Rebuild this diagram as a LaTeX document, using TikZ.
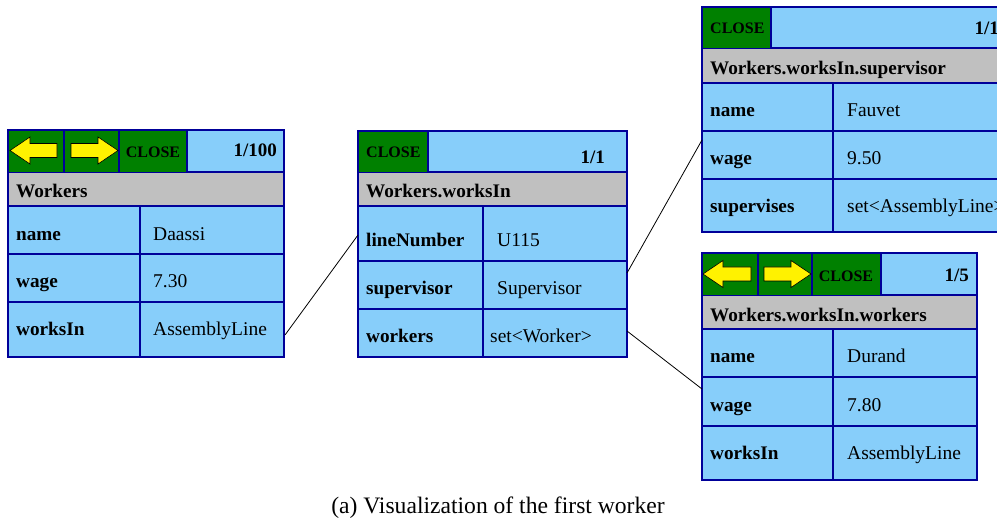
\documentclass[tikz,border=0pt]{standalone}
\usepackage{fontspec}
\setmainfont{Liberation Serif}
\definecolor{cellblue}{HTML}{87CEFA}
\definecolor{btngreen}{HTML}{008000}
\definecolor{titlegray}{HTML}{C0C0C0}
\definecolor{edgeblue}{HTML}{000099}

\tikzset{
  gridline/.style={draw=edgeblue,line width=1.4pt},
  frame/.style={draw=edgeblue,line width=2.2pt},
  lbl/.style={anchor=base west,inner sep=0pt,font=\fontsize{19.2}{22}\selectfont\bfseries},
  val/.style={anchor=base west,inner sep=0pt,font=\fontsize{19.5}{23}\selectfont},
  closelbl/.style={anchor=base,inner sep=0pt,font=\fontsize{16}{19}\selectfont\bfseries},
  closeleft/.style={anchor=base west,inner sep=0pt,font=\fontsize{16}{19}\selectfont\bfseries},
  counter/.style={anchor=base east,inner sep=0pt,font=\fontsize{19}{22}\selectfont\bfseries},
  link/.style={draw=black,line width=0.8pt},
  navarrow/.style={fill=yellow,draw=black,line width=0.6pt,line join=miter},
}

% yellow navigation arrows: tip x, tail x, middle y
\newcommand\navleft[3]{%
  \path[navarrow] (#1,#3) -- (#1+20,#3-13.5) -- (#1+20,#3-7) -- (#2,#3-7)
    -- (#2,#3+7) -- (#1+20,#3+7) -- (#1+20,#3+13.5) -- cycle;}
\newcommand\navright[3]{%
  \path[navarrow] (#1,#3) -- (#1-20,#3-13.5) -- (#1-20,#3-7) -- (#2,#3-7)
    -- (#2,#3+7) -- (#1-20,#3+7) -- (#1-20,#3+13.5) -- cycle;}

% table body: left, top, right, toolbar bottom, title bottom, row1, row2, bottom, column
\newcommand\tablebody[9]{%
  \fill[cellblue] (#1,#2) rectangle (#3,#8);
  \fill[titlegray] (#1,#4) rectangle (#3,#5);
  \draw[gridline] (#1,#4) -- (#3,#4);
  \draw[gridline] (#1,#5) -- (#3,#5);
  \draw[gridline] (#1,#6) -- (#3,#6);
  \draw[gridline] (#1,#7) -- (#3,#7);
  \draw[gridline] (#9,#5) -- (#9,#8);}

\begin{document}
\begin{tikzpicture}[x=1pt,y=-1pt]
\useasboundingbox (0,0) rectangle (997,521);
\clip (0,0) rectangle (997,521);

% ---------- Workers ----------
\tablebody{8}{130}{284}{172}{206}{254}{302}{357}{140}
\fill[btngreen] (8,130) rectangle (187,172);
\draw[gridline] (64,130) -- (64,172);
\draw[gridline] (119,130) -- (119,172);
\draw[gridline] (187,130) -- (187,172);
\navleft{10}{57}{150.5}
\navright{118}{71}{150.5}
\draw[frame] (8,130) rectangle (284,357);
\node[closelbl] (w-close) at (153,158) {CLOSE};
\node[counter] (w-count) at (277,157) {1/100};
\node[lbl] (w-title) at (16,198) {Workers};
\node[lbl] (w-k1) at (16,241) {name};
\node[val] (w-v1) at (153,241) {Daassi};
\node[lbl] (w-k2) at (16,288) {wage};
\node[val] (w-v2) at (153,288) {7.30};
\node[lbl] (w-k3) at (16,336) {worksIn};
\node[val] (w-v3) at (153,336) {AssemblyLine};

% ---------- Workers.worksIn ----------
\tablebody{358}{131}{627}{172}{206}{261}{309}{357}{483}
\fill[btngreen] (358,131) rectangle (428,172);
\draw[gridline] (428,131) -- (428,172);
\draw[frame] (358,131) rectangle (627,357);
\node[closeleft] (l-close) at (366,158) {CLOSE};
\node[counter] (l-count) at (605,164) {1/1};
\node[lbl] (l-title) at (366,198) {Workers.worksIn};
\node[lbl] (l-k1) at (366,247) {lineNumber};
\node[val] (l-v1) at (497,247) {U115};
\node[lbl] (l-k2) at (366,295) {supervisor};
\node[val] (l-v2) at (497,295) {Supervisor};
\node[lbl] (l-k3) at (366,343) {workers};
\node[val] (l-v3) at (490,343) {set<Worker>};

% ---------- Workers.worksIn.supervisor ----------
\tablebody{702}{7}{1019}{48}{83}{131}{179}{232}{833}
\fill[btngreen] (702,7) rectangle (771,48);
\draw[gridline] (771,7) -- (771,48);
\draw[frame] (702,7) rectangle (1019,232);
\node[closeleft] (s-close) at (710,34) {CLOSE};
\node[counter] (s-count) at (999,35) {1/1};
\node[lbl] (s-title) at (710,75) {Workers.worksIn.supervisor};
\node[lbl] (s-k1) at (710,117) {name};
\node[val] (s-v1) at (847,117) {Fauvet};
\node[lbl] (s-k2) at (710,165) {wage};
\node[val] (s-v2) at (847,165) {9.50};
\node[lbl] (s-k3) at (710,213) {supervises};
\node[val] (s-v3) at (847,213) {set<AssemblyLine>};

% ---------- Workers.worksIn.workers ----------
\tablebody{702}{253}{977}{295}{329}{377}{426}{480}{833}
\fill[btngreen] (702,253) rectangle (881,295);
\draw[gridline] (758,253) -- (758,295);
\draw[gridline] (812,253) -- (812,295);
\draw[gridline] (881,253) -- (881,295);
\navleft{703}{751}{274}
\navright{811}{764}{274}
\draw[frame] (702,253) rectangle (977,480);
\node[closelbl] (k-close) at (846,282) {CLOSE};
\node[counter] (k-count) at (969,282) {1/5};
\node[lbl] (k-title) at (710,322) {Workers.worksIn.workers};
\node[lbl] (k-k1) at (710,363) {name};
\node[val] (k-v1) at (847,363) {Durand};
\node[lbl] (k-k2) at (710,412) {wage};
\node[val] (k-v2) at (847,412) {7.80};
\node[lbl] (k-k3) at (710,460) {worksIn};
\node[val] (k-v3) at (847,460) {AssemblyLine};

% ---------- links between tables ----------
\coordinate (w-out) at (285,335);
\coordinate (l-in) at (358,235);
\coordinate (l-out-s) at (627,273);
\coordinate (s-in) at (702,140);
\coordinate (l-out-k) at (627,331);
\coordinate (k-in) at (702,389);
\draw[link] (w-out) -- (l-in);
\draw[link] (l-out-s) -- (s-in);
\draw[link] (l-out-k) -- (k-in);

% caption
\node[anchor=base,inner sep=0pt,font=\fontsize{23.6}{27}\selectfont] (caption) at (498,513)
  {(a) Visualization of the first worker};
\end{tikzpicture}
\end{document}
